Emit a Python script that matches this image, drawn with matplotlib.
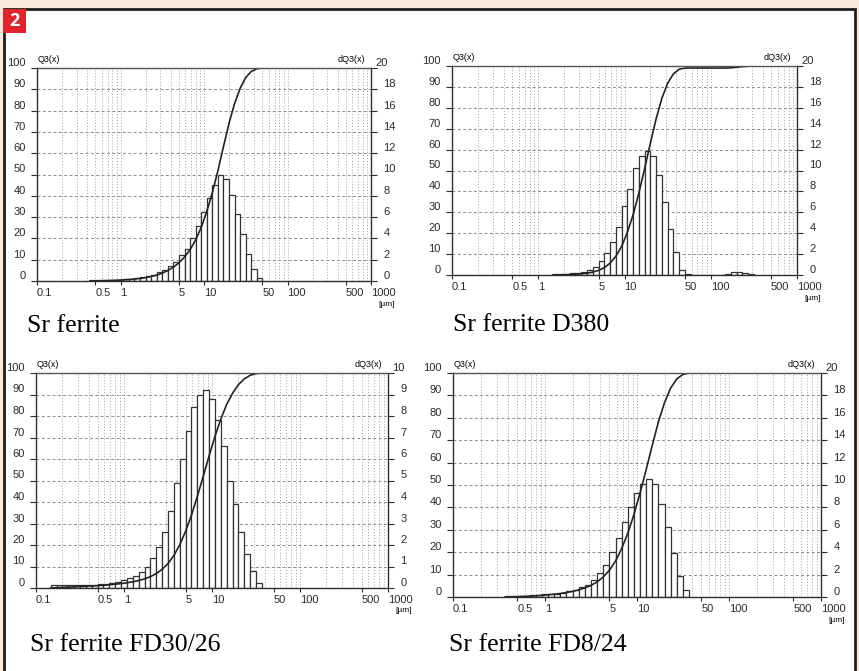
#!/usr/bin/env python3

import numpy as np
import matplotlib
matplotlib.use("Agg")
import matplotlib.pyplot as plt
from matplotlib.patches import Rectangle
from matplotlib.ticker import NullLocator
from matplotlib.transforms import ScaledTranslation

W, H = 859, 671
NARROW = ['Liberation Sans Narrow', 'Liberation Sans']
SERIF = ['Liberation Serif', 'DejaVu Serif']

CLASSES_PER_DECADE = 15   # class k spans 10**((k+0.5)/15) .. 10**((k+1.5)/15) um
Q3_END = 550              # cumulative line stays at 100 up to here

titles = ["Sr ferrite", "Sr ferrite D380", "Sr ferrite FD30/26", "Sr ferrite FD8/24"]

# dQ3 [%] per size class, list starts at class index first_class
first_class = [-6, 2, -13, -7]
dq3_sr = [0.05, 0.05, 0.06, 0.08, 0.1, 0.12, 0.15, 0.2, 0.25, 0.33, 0.45,
          0.6, 0.8, 1.05, 1.4, 1.8, 2.4, 3.0, 4.0, 5.2, 6.5, 7.8, 9.0, 10.0,
          9.6, 8.1, 6.3, 4.4, 2.5, 1.1, 0.3]
dq3_d380 = [0.05, 0.07, 0.1, 0.15, 0.2, 0.3, 0.5, 0.8, 1.3, 2.1, 3.2, 4.6,
            6.6, 8.2, 10.2, 11.4, 11.9, 11.4, 9.6, 7.0, 4.4, 2.2, 0.5, 0.05,
            0, 0, 0, 0, 0, 0, 0.1, 0.25, 0.3, 0.2, 0.1]
dq3_fd30 = [0.15, 0.13, 0.12, 0.12, 0.13, 0.13, 0.14, 0.15, 0.17, 0.2, 0.25,
            0.3, 0.35, 0.45, 0.55, 0.75, 1.0, 1.4, 1.9, 2.6, 3.6, 4.9, 6.0,
            7.3, 8.4, 9.0, 9.2, 8.8, 7.8, 6.6, 5.0, 3.9, 2.6, 1.6, 0.8, 0.25]
dq3_fd8 = [0.06, 0.08, 0.1, 0.12, 0.15, 0.2, 0.25, 0.25, 0.3, 0.4, 0.5, 0.65,
           0.85, 1.1, 1.5, 2.1, 2.9, 4.0, 5.3, 6.7, 8.0, 9.3, 10.1, 10.5,
           10.1, 8.3, 6.25, 3.9, 1.9, 0.6]
dq3_all = [dq3_sr, dq3_d380, dq3_fd30, dq3_fd8]
dq3_max = [20, 20, 10, 20]
dq3_step = [2, 2, 1, 2]

x_ticks = [0.1, 0.5, 1, 5, 10, 50, 100, 500, 1000]
x_ticklabels = ["0.1", "0.5", "1", "5", "10", "50", "100", "500", "1000"]
q3_ticks = list(range(0, 101, 10))

# layout in pixels: axes box (left, top, right, bottom), title anchor (x, y)
boxes = [(37, 68, 371, 281), (452, 66, 797, 275),
         (36, 373, 388, 588), (453, 373, 821, 597)]
title_pos = [(27, 326), (453, 325), (30, 645), (449, 645)]

plt.rcParams['font.family'] = NARROW


def draw_panel(fig, box, k0, dq3, ymax, ystep):
    l, t, r, b = box
    ax = fig.add_axes([l / W, 1 - b / H, (r - l) / W, (b - t) / H])
    ax2 = ax.twinx()
    # curve axes on top, bars below
    ax.set_zorder(ax2.get_zorder() + 1)
    ax.patch.set_visible(False)
    ax2.patch.set_visible(True)
    ax2.patch.set_facecolor('white')

    ax.set_xscale('log')
    ax.set_xlim(0.1, 1000)
    ax.set_ylim(0, 100)
    ax2.set_ylim(0, ymax)

    # grid
    ax2.set_axisbelow(True)
    ax2.yaxis.grid(True, ls=(0, (3, 2.5)), color='#8c8c8c', lw=0.7)
    grid_x = [m * 10.0 ** e for e in range(-1, 3) for m in range(1, 10)]
    ax2.vlines(grid_x, 0, 1, transform=ax2.get_xaxis_transform(),
               colors='#a0a0a0', linestyles=(0, (1, 2)), lw=0.7, zorder=0.5)

    # histogram
    k = np.arange(k0, k0 + len(dq3) + 1)
    edges = 10 ** ((k + 0.5) / CLASSES_PER_DECADE)
    ax2.bar(edges[:-1], dq3, width=np.diff(edges), align='edge',
            facecolor='white', edgecolor='#333333', linewidth=0.9, zorder=1)

    # cumulative Q3
    q3 = np.concatenate([[0], np.cumsum(dq3)]) / np.sum(dq3) * 100
    ax.plot(np.append(edges, Q3_END), np.append(q3, 100), color='#222222', lw=1.2)

    # ticks
    ax.set_xticks(x_ticks, x_ticklabels)
    ax.xaxis.set_minor_locator(NullLocator())
    ax.set_yticks(q3_ticks, [str(v) for v in q3_ticks])
    rt = np.arange(0, ymax + 1, ystep)
    ax2.set_yticks(rt, [str(v) for v in rt])
    ax.tick_params(axis='y', direction='out', length=4, width=0.8, pad=4,
                   labelsize=8, colors='#2a2a2a')
    ax.tick_params(axis='x', direction='out', length=3, width=0.8, pad=2,
                   labelsize=8, colors='#2a2a2a')
    ax2.tick_params(axis='y', direction='out', length=4, width=0.8, pad=5,
                    labelsize=8, colors='#2a2a2a')
    for lab in ax.get_xticklabels():
        lab.set_ha('left')
    for lab in ax.get_yticklabels() + ax2.get_yticklabels():
        lab.set_va('bottom')
    top_lab = ax2.get_yticklabels()[-1]
    top_lab.set_transform(top_lab.get_transform() +
                          ScaledTranslation(-0.08, 0, fig.dpi_scale_trans))

    for s in ax2.spines.values():
        s.set_visible(False)
    for name in ['left', 'right', 'bottom']:
        ax.spines[name].set_color('#2e2e2e')
        ax.spines[name].set_linewidth(1.0)
    ax.spines['top'].set_color('#555555')
    ax.spines['top'].set_linewidth(1.0)

    ax.annotate("Q3(x)", xy=(0, 1), xycoords='axes fraction', xytext=(1, 4),
                textcoords='offset pixels', ha='left', va='bottom', fontsize=6.5)
    ax.annotate("dQ3(x)", xy=(1, 1), xycoords='axes fraction', xytext=(-6, 4),
                textcoords='offset pixels', ha='right', va='bottom', fontsize=6.5)
    ax.annotate("[µm]", xy=(1, 0), xycoords='axes fraction', xytext=(7, -23),
                textcoords='offset pixels', ha='left', va='center', fontsize=6)
    return ax


fig = plt.figure(figsize=(W / 100, H / 100), dpi=100, facecolor='#fde9dc')

# white panel with dark frame, red figure number
fig.add_artist(Rectangle((4 / W, -0.02), 851 / W, (H - 9) / H + 0.02,
                         transform=fig.transFigure, facecolor='white',
                         edgecolor='#1e1e1e', lw=2, zorder=-10))
fig.add_artist(Rectangle((3 / W, 1 - 33 / H), 23 / W, 24 / H,
                         transform=fig.transFigure, facecolor='#e0242c',
                         edgecolor='none', zorder=-5))
fig.text(14.5 / W, 1 - 21 / H, "2", color='white', fontweight='bold',
         fontsize=13, ha='center', va='center', family=['Open Sans', 'DejaVu Sans'])

for i in range(4):
    draw_panel(fig, boxes[i], first_class[i], dq3_all[i], dq3_max[i], dq3_step[i])
    tx, ty = title_pos[i]
    fig.text(tx / W, 1 - ty / H, titles[i], family=SERIF, fontsize=18.5,
             ha='left', va='center')

fig.savefig("out.png", dpi=100, facecolor=fig.get_facecolor())
